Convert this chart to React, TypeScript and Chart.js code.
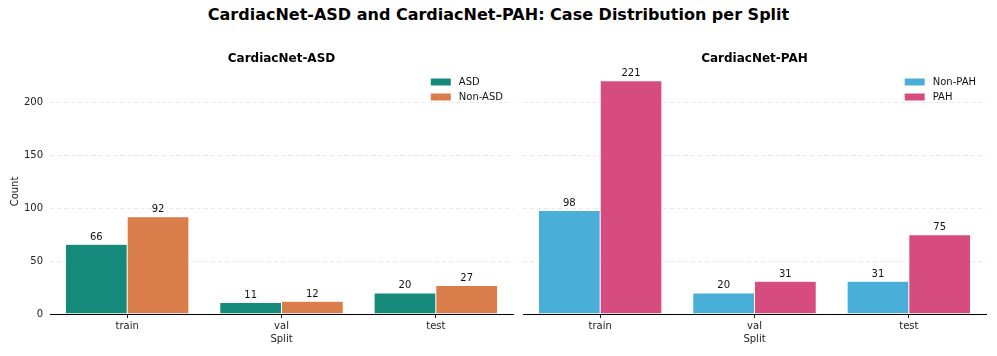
import React, { useEffect, useRef } from "react";
import { Chart, registerables } from "chart.js";

Chart.register(...registerables);

const splits = ["train", "val", "test"];
const asdLabels = ["ASD", "Non-ASD"];
const asdValues = [66, 11, 20];
const nonAsdValues = [92, 12, 27];
const pahLabels = ["Non-PAH", "PAH"];
const nonPahValues = [98, 20, 31];
const pahValues = [221, 31, 75];
const yTicks = [0, 50, 100, 150, 200];

const mainTitle = "CardiacNet-ASD and CardiacNet-PAH: Case Distribution per Split";
const FONT = "'DejaVu Sans', sans-serif";

const overlayPlugin = {
  id: "overlay",
  afterDatasetsDraw(chart: any, _args: any, opts: any) {
    const { ctx, chartArea } = chart;
    ctx.save();
    // value labels
    chart.data.datasets.forEach((ds: any, di: number) => {
      const meta = chart.getDatasetMeta(di);
      meta.data.forEach((bar: any, i: number) => {
        ctx.fillStyle = "#111";
        ctx.font = `10px ${FONT}`;
        ctx.textAlign = "center";
        ctx.textBaseline = "bottom";
        ctx.fillText(String(ds.data[i]), bar.x, bar.y - 2);
      });
    });
    // subplot title
    ctx.font = `bold 12px ${FONT}`;
    ctx.fillStyle = "#000";
    ctx.textAlign = "center";
    ctx.textBaseline = "middle";
    ctx.fillText(opts.title, (chartArea.left + chartArea.right) / 2, 59);
    // legend
    ctx.font = `10px ${FONT}`;
    const widths = chart.data.datasets.map((d: any) => ctx.measureText(d.label).width);
    const tw = Math.max(...widths);
    const textX = chartArea.right - 10 - tw;
    const patchX = textX - 28;
    chart.data.datasets.forEach((d: any, i: number) => {
      const cy = 82 + i * 15;
      ctx.fillStyle = d.backgroundColor;
      ctx.fillRect(patchX, cy - 3.5, 20, 7);
      ctx.fillStyle = "#111";
      ctx.textAlign = "left";
      ctx.textBaseline = "middle";
      ctx.fillText(d.label, textX, cy);
    });
    ctx.restore();
  },
};

function makeConfig(
  labels: string[],
  a: number[],
  b: number[],
  colors: string[],
  title: string,
  showY: boolean
): any {
  return {
    type: "bar",
    data: {
      labels: splits,
      datasets: [
        { label: labels[0], data: a, backgroundColor: colors[0], borderColor: "rgba(255,255,255,0.6)", borderWidth: 0.5 },
        { label: labels[1], data: b, backgroundColor: colors[1], borderColor: "rgba(255,255,255,0.6)", borderWidth: 0.5 },
      ],
    },
    options: {
      responsive: false,
      animation: false,
      layout: { padding: { top: 69, right: showY ? 5 : 11, left: 0, bottom: 0 } },
      datasets: { bar: { categoryPercentage: 0.8, barPercentage: 1.0 } },
      plugins: {
        legend: { display: false },
        title: { display: false },
        tooltip: { enabled: false },
        overlay: { title },
      },
      scales: {
        x: {
          grid: {
            display: true,
            drawOnChartArea: false,
            drawTicks: true,
            tickLength: 4,
            tickColor: "#222",
            offset: false,
          },
          border: { display: true, color: "#000", width: 1 },
          ticks: { color: "#222", font: { family: FONT, size: 10 }, padding: 2 },
          title: {
            display: true,
            text: "Split",
            color: "#222",
            font: { family: FONT, size: 10 },
            padding: { top: 0, bottom: 11 },
          },
          afterFit: (s: any) => {
            s.height = 42;
          },
        },
        y: {
          min: 0,
          max: 232.05,
          afterBuildTicks: (s: any) => {
            s.ticks = yTicks.map((v) => ({ value: v }));
          },
          grid: {
            display: true,
            drawTicks: false,
            color: "#e3e3e3",
            lineWidth: 0.8,
          },
          border: { display: false, dash: [4, 3] },
          ticks: {
            display: showY,
            color: "#222",
            font: { family: FONT, size: 10 },
            padding: 7,
          },
          title: {
            display: showY,
            text: "Count",
            color: "#222",
            font: { family: FONT, size: 10 },
            padding: { top: 9, bottom: 0 },
          },
          afterFit: (s: any) => {
            s.width = showY ? 50 : 5;
          },
        },
      },
    },
    plugins: [overlayPlugin],
  };
}

export default function App() {
  const leftRef = useRef<HTMLCanvasElement>(null);
  const rightRef = useRef<HTMLCanvasElement>(null);

  useEffect(() => {
    document.body.style.margin = "0";
    const c1 = new Chart(
      leftRef.current!,
      makeConfig(asdLabels, asdValues, nonAsdValues, ["#168A7A", "#D97D4B"], "CardiacNet-ASD", true)
    );
    const c2 = new Chart(
      rightRef.current!,
      makeConfig(pahLabels, nonPahValues, pahValues, ["#4AAFD8", "#D64C7E"], "CardiacNet-PAH", false)
    );
    return () => {
      c1.destroy();
      c2.destroy();
    };
  }, []);

  return (
    <div style={{ position: "absolute", left: 0, top: 0, width: 997, height: 356, background: "#fff" }}>
      <div
        style={{
          position: "absolute",
          left: 0,
          top: 5,
          width: 997,
          textAlign: "center",
          fontFamily: FONT,
          fontWeight: "bold",
          fontSize: 16,
          lineHeight: "20px",
          color: "#000",
        }}
      >
        {mainTitle}
      </div>
      <canvas ref={leftRef} width={518} height={356} style={{ position: "absolute", left: 0, top: 0 }} />
      <canvas ref={rightRef} width={479} height={356} style={{ position: "absolute", left: 518, top: 0 }} />
    </div>
  );
}
